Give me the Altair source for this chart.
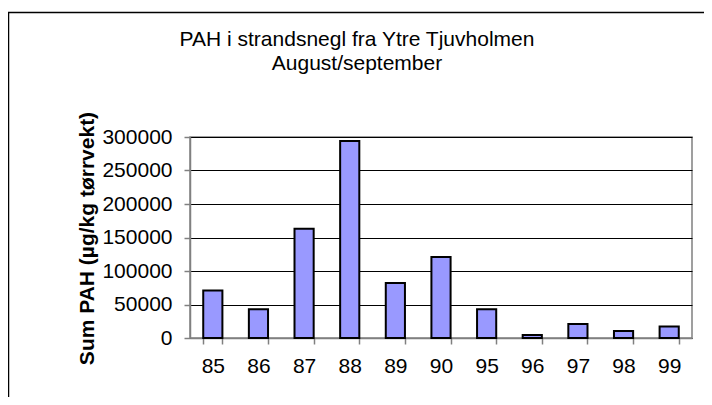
import altair as alt
import pandas as pd

years = ["85", "86", "87", "88", "89", "90", "95", "96", "97", "98", "99"]
pah = [71000, 43000, 163000, 294000, 82000, 121000, 43000, 4500, 21000, 10500, 17000]
y_ticks = [0, 50000, 100000, 150000, 200000, 250000, 300000]
title_lines = ["PAH i strandsnegl fra Ytre Tjuvholmen", "August/september"]

df = pd.DataFrame({"year": years, "pah": pah})
one = alt.Data(values=[{"k": 1}])

FONT = "Liberation Sans"
W, H = 502, 201

bars = alt.Chart(df).mark_bar(color="#9999FF", stroke="black", strokeWidth=2).encode(
    x=alt.X("year:N", sort=years, title=None,
            scale=alt.Scale(paddingInner=0.58, paddingOuter=0.29),
            axis=alt.Axis(labelAngle=0, labelFontSize=21, labelFont=FONT, labelColor="black",
                          labelPadding=11, tickBand="extent", tickSize=6, labelOverlap=False,
                          tickColor="#808080", domainColor="#808080", domainWidth=1.5,
                          tickWidth=1.5, grid=False)),
    y=alt.Y("pah:Q", scale=alt.Scale(domain=[0, 300000], nice=False),
            title="Sum PAH (µg/kg tørrvekt)",
            axis=alt.Axis(values=y_ticks, format="d", labelOverlap=False,
                          grid=True, gridColor="black", gridWidth=1,
                          labelFontSize=21, labelFont=FONT, labelColor="black", labelPadding=12,
                          tickSize=6, tickColor="#808080", tickWidth=1.5,
                          domainColor="#808080", domainWidth=1.5,
                          titleFont=FONT, titleFontSize=21, titleFontWeight="bold",
                          titleColor="black", titleAngle=-90, titleX=-103, titleY=101,
                          titleAlign="center", titleBaseline="middle")),
)

frame_left = alt.Chart(one).mark_rule(color="black", strokeWidth=1.5).encode(
    x=alt.value(-181.5), x2=alt.value(-181.5), y=alt.value(-125), y2=alt.value(300)
)
frame_top = alt.Chart(one).mark_rule(color="black", strokeWidth=1.5).encode(
    x=alt.value(-182), x2=alt.value(560), y=alt.value(-124.5), y2=alt.value(-124.5)
)
t1 = alt.Chart(one).mark_text(font=FONT, fontSize=21, color="black", align="center",
                               baseline="alphabetic").encode(
    x=alt.value(167), y=alt.value(-91), text=alt.value(title_lines[0]))
t2 = alt.Chart(one).mark_text(font=FONT, fontSize=21, color="black", align="center",
                               baseline="alphabetic").encode(
    x=alt.value(167), y=alt.value(-67), text=alt.value(title_lines[1]))

chart = alt.layer(bars, frame_left, frame_top, t1, t2).properties(
    width=W, height=H,
    autosize=alt.AutoSizeParams(type="none"),
    padding={"left": 182, "top": 129, "right": 12, "bottom": 59},
).configure_view(stroke="#808080", strokeWidth=1.5)

chart.save("out.html", embed_options={"renderer": "svg", "actions": False})
